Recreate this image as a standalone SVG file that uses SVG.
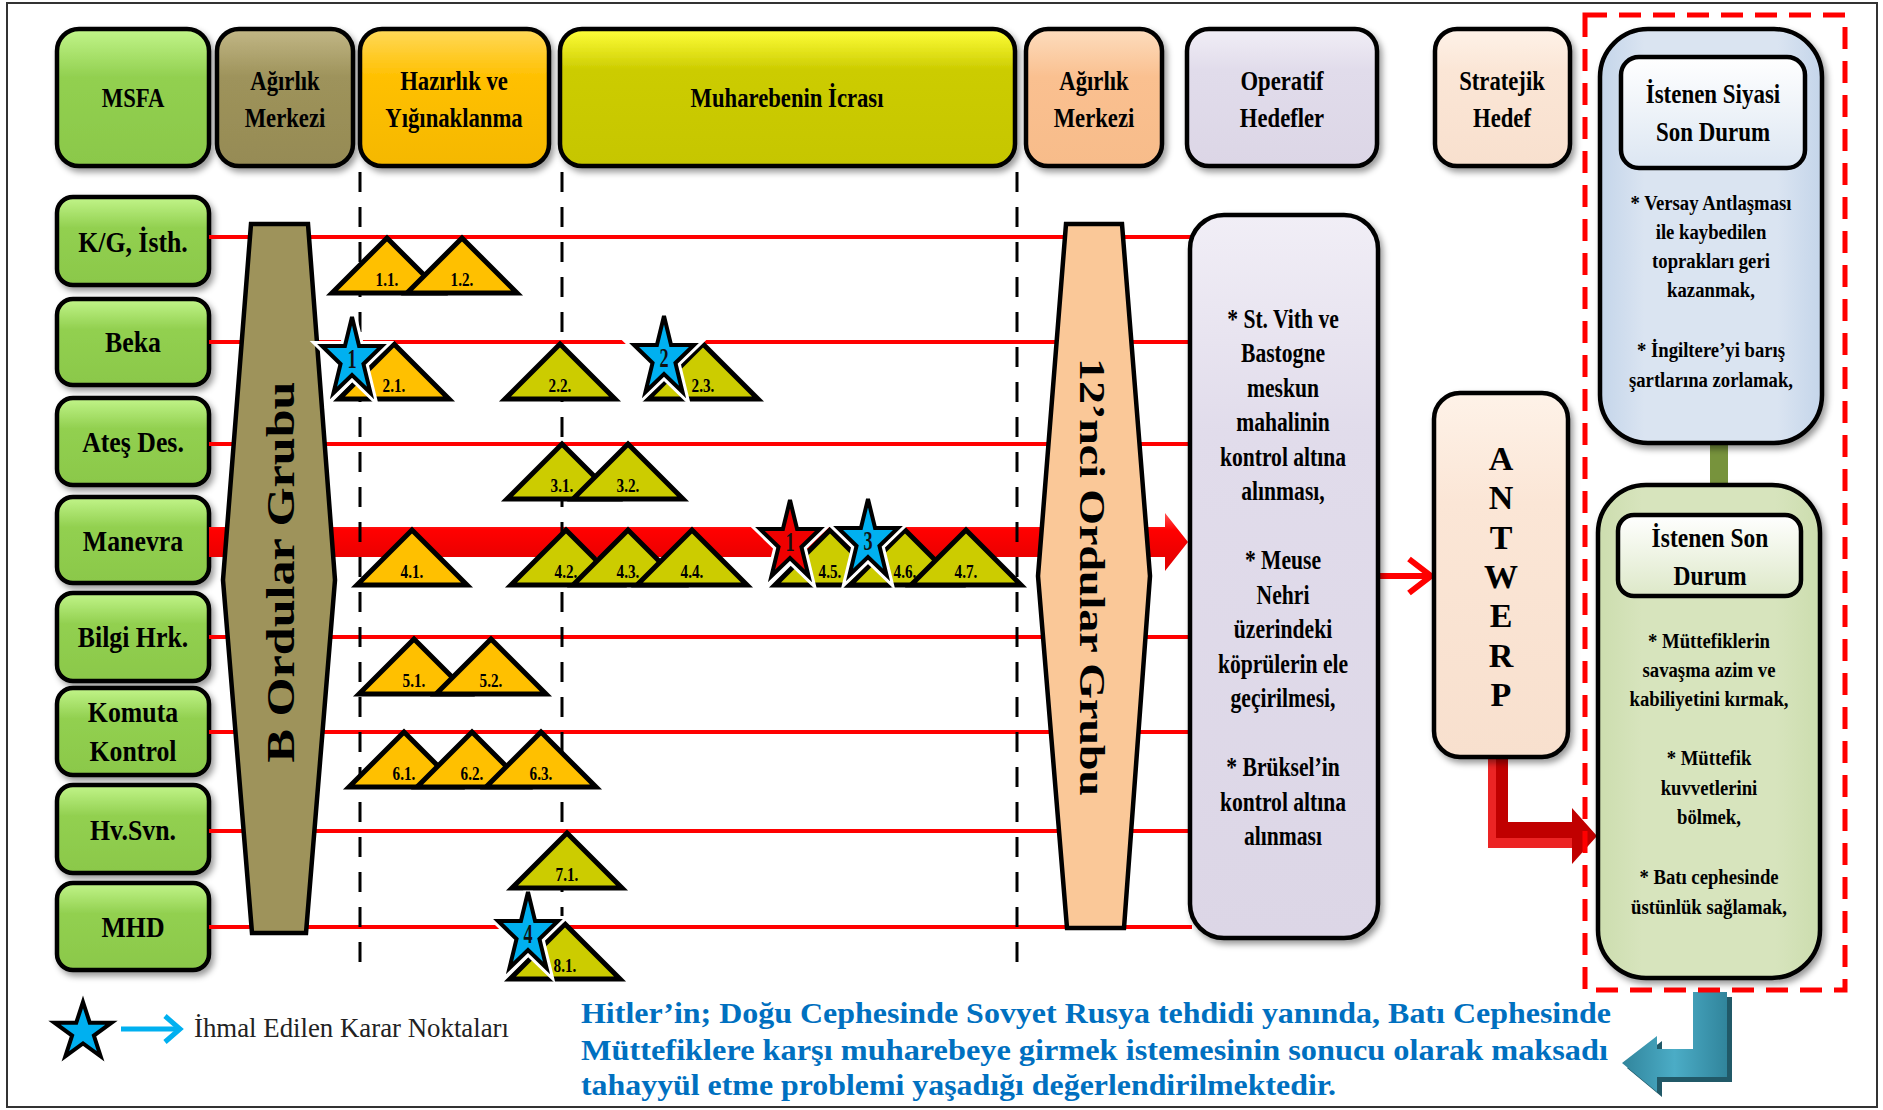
<svg xmlns="http://www.w3.org/2000/svg" width="1883" height="1110" viewBox="0 0 1883 1110">
<defs>
<style>
.t{font-family:"Liberation Serif","Times New Roman",serif;font-weight:bold;text-anchor:middle;fill:#000}
.h{font-size:28px}
.r{font-size:30px}
.b{font-size:27px}
.s{font-size:22px}
.ih{font-size:27px}
.tl{font-size:19px}
.sn{font-size:28px;fill:#111}
.box{stroke:#000;stroke-width:4.5}
.tri{stroke:#000;stroke-width:5}
.o{fill:#FFC000}
.y{fill:#CCCC00}
.rl{stroke:#FF0000;stroke-width:4}
.dl{stroke:#000;stroke-width:3;stroke-dasharray:20 15}
</style>
<filter id="sh" x="-20%" y="-20%" width="140%" height="140%"><feDropShadow dx="3" dy="4" stdDeviation="3" flood-color="#000" flood-opacity="0.4"/></filter>
<linearGradient id="gGreen" x1="0" y1="0" x2="0" y2="1"><stop offset="0" stop-color="#C2F58A"/><stop offset="0.35" stop-color="#92D050"/><stop offset="1" stop-color="#8BC84A"/></linearGradient>
<linearGradient id="gOlive" x1="0" y1="0" x2="0" y2="1"><stop offset="0" stop-color="#C2B786"/><stop offset="0.35" stop-color="#9E935B"/><stop offset="1" stop-color="#968B55"/></linearGradient>
<linearGradient id="gOrange" x1="0" y1="0" x2="0" y2="1"><stop offset="0" stop-color="#FFD95A"/><stop offset="0.35" stop-color="#FFC000"/><stop offset="1" stop-color="#F5B800"/></linearGradient>
<linearGradient id="gYel" x1="0" y1="0" x2="0" y2="1"><stop offset="0" stop-color="#FFFF3A"/><stop offset="0.3" stop-color="#CCCC00"/><stop offset="1" stop-color="#C6C600"/></linearGradient>
<linearGradient id="gPeach" x1="0" y1="0" x2="0" y2="1"><stop offset="0" stop-color="#FDDDBE"/><stop offset="0.35" stop-color="#FAC090"/><stop offset="1" stop-color="#F7BC8A"/></linearGradient>
<linearGradient id="gLav" x1="0" y1="0" x2="0" y2="1"><stop offset="0" stop-color="#F1EEF6"/><stop offset="0.3" stop-color="#E1DCEB"/><stop offset="1" stop-color="#DCD6E6"/></linearGradient>
<linearGradient id="gCream" x1="0" y1="0" x2="0" y2="1"><stop offset="0" stop-color="#FEF2E8"/><stop offset="0.3" stop-color="#FBE6D6"/><stop offset="1" stop-color="#F8E0CE"/></linearGradient>
<linearGradient id="gBlue" x1="0" y1="0" x2="1" y2="0"><stop offset="0" stop-color="#C4D5EA"/><stop offset="0.2" stop-color="#DAE4F1"/><stop offset="0.8" stop-color="#DAE4F1"/><stop offset="1" stop-color="#C4D5EA"/></linearGradient>
<linearGradient id="gLG" x1="0" y1="0" x2="1" y2="0"><stop offset="0" stop-color="#CCDDAE"/><stop offset="0.2" stop-color="#D7E4BD"/><stop offset="0.8" stop-color="#D7E4BD"/><stop offset="1" stop-color="#CCDDAE"/></linearGradient>
<linearGradient id="gWB" x1="0" y1="0" x2="0" y2="1"><stop offset="0" stop-color="#FFFFFF"/><stop offset="1" stop-color="#DCE6F2"/></linearGradient>
<linearGradient id="gWG" x1="0" y1="0" x2="0" y2="1"><stop offset="0" stop-color="#FFFFFF"/><stop offset="1" stop-color="#DDE8C8"/></linearGradient>
<linearGradient id="gBand" x1="0" y1="0" x2="0" y2="1"><stop offset="0" stop-color="#FF5050"/><stop offset="0.3" stop-color="#FF0000"/><stop offset="1" stop-color="#E00000"/></linearGradient>
<linearGradient id="gTeal" x1="0" y1="0" x2="1" y2="0"><stop offset="0" stop-color="#31859C"/><stop offset="0.5" stop-color="#4BACC6"/><stop offset="1" stop-color="#31859C"/></linearGradient>
<path id="star" d="M0,-42 L7.07,-12.98 L29.96,-12.98 L11.45,4.96 L18.52,33.98 L0,16.04 L-18.52,33.98 L-11.45,4.96 L-29.96,-12.98 L-7.07,-12.98 Z"/>
</defs>

<rect x="7" y="3" width="1870" height="1104" fill="#fff" stroke="#333" stroke-width="2"/>

<!-- header -->
<g id="h-msfa"><rect class="box" x="57" y="29" width="152" height="137" rx="22" fill="url(#gGreen)" filter="url(#sh)"/><text class="t h" transform="translate(133,107) scale(0.81,1)">MSFA</text></g>
<g id="h-agirlik1"><rect class="box" x="217" y="29" width="136" height="137" rx="22" fill="url(#gOlive)" filter="url(#sh)"/><text class="t h" transform="translate(285,90) scale(0.81,1)"><tspan x="0" y="0">Ağırlık</tspan><tspan x="0" y="37">Merkezi</tspan></text></g>
<g id="h-hazirlik"><rect class="box" x="360" y="29" width="189" height="137" rx="22" fill="url(#gOrange)" filter="url(#sh)"/><text class="t h" transform="translate(454,90) scale(0.81,1)"><tspan x="0" y="0">Hazırlık ve</tspan><tspan x="0" y="37">Yığınaklanma</tspan></text></g>
<g id="h-muharebe"><rect class="box" x="560" y="29" width="455" height="137" rx="22" fill="url(#gYel)" filter="url(#sh)"/><text class="t h" transform="translate(787,107) scale(0.81,1)">Muharebenin İcrası</text></g>
<g id="h-agirlik2"><rect class="box" x="1026" y="29" width="136" height="137" rx="22" fill="url(#gPeach)" filter="url(#sh)"/><text class="t h" transform="translate(1094,90) scale(0.81,1)"><tspan x="0" y="0">Ağırlık</tspan><tspan x="0" y="37">Merkezi</tspan></text></g>
<g id="h-operatif"><rect class="box" x="1187" y="29" width="190" height="137" rx="22" fill="url(#gLav)" filter="url(#sh)"/><text class="t h" transform="translate(1282,90) scale(0.81,1)"><tspan x="0" y="0">Operatif</tspan><tspan x="0" y="37">Hedefler</tspan></text></g>
<g id="h-stratejik"><rect class="box" x="1435" y="29" width="135" height="137" rx="22" fill="url(#gCream)" filter="url(#sh)"/><text class="t h" transform="translate(1502,90) scale(0.81,1)"><tspan x="0" y="0">Stratejik</tspan><tspan x="0" y="37">Hedef</tspan></text></g>

<!-- row labels -->
<g id="row-kg"><rect class="box" x="57" y="197" width="152" height="88" rx="16" fill="url(#gGreen)" filter="url(#sh)"/><text class="t r" transform="translate(133,252) scale(0.86,1)">K/G, İsth.</text></g>
<g id="row-beka"><rect class="box" x="57" y="299" width="152" height="86" rx="16" fill="url(#gGreen)" filter="url(#sh)"/><text class="t r" transform="translate(133,352) scale(0.86,1)">Beka</text></g>
<g id="row-ates"><rect class="box" x="57" y="398" width="152" height="87" rx="16" fill="url(#gGreen)" filter="url(#sh)"/><text class="t r" transform="translate(133,452) scale(0.86,1)">Ateş Des.</text></g>
<g id="row-manevra"><rect class="box" x="57" y="497" width="152" height="86" rx="16" fill="url(#gGreen)" filter="url(#sh)"/><text class="t r" transform="translate(133,551) scale(0.86,1)">Manevra</text></g>
<g id="row-bilgi"><rect class="box" x="57" y="593" width="152" height="88" rx="16" fill="url(#gGreen)" filter="url(#sh)"/><text class="t r" transform="translate(133,647) scale(0.86,1)">Bilgi Hrk.</text></g>
<g id="row-komuta"><rect class="box" x="57" y="688" width="152" height="87" rx="16" fill="url(#gGreen)" filter="url(#sh)"/><text class="t r" transform="translate(133,722) scale(0.86,1)"><tspan x="0" y="0">Komuta</tspan><tspan x="0" y="39">Kontrol</tspan></text></g>
<g id="row-hvsvn"><rect class="box" x="57" y="785" width="152" height="88" rx="16" fill="url(#gGreen)" filter="url(#sh)"/><text class="t r" transform="translate(133,840) scale(0.86,1)">Hv.Svn.</text></g>
<g id="row-mhd"><rect class="box" x="57" y="883" width="152" height="87" rx="16" fill="url(#gGreen)" filter="url(#sh)"/><text class="t r" transform="translate(133,937) scale(0.86,1)">MHD</text></g>

<!-- connectors -->
<g id="connectors">
<line class="rl" x1="209" y1="237" x2="1192" y2="237"/>
<line class="rl" x1="209" y1="342" x2="1192" y2="342"/>
<line class="rl" x1="209" y1="444" x2="1192" y2="444"/>
<line class="rl" x1="209" y1="637" x2="1192" y2="637"/>
<line class="rl" x1="209" y1="732" x2="1192" y2="732"/>
<line class="rl" x1="209" y1="831" x2="1192" y2="831"/>
<line class="rl" x1="209" y1="927" x2="1192" y2="927"/>
<path d="M209,527 H1165 V513 L1188,542 L1165,571 V557 H209 Z" fill="url(#gBand)"/>
<line class="dl" x1="360" y1="172" x2="360" y2="963"/>
<line class="dl" x1="562" y1="172" x2="562" y2="963"/>
<line class="dl" x1="1017" y1="172" x2="1017" y2="963"/>
<line x1="1378" y1="576" x2="1429" y2="576" stroke="#FF0000" stroke-width="6"/>
<polyline points="1409,559 1431,576 1409,593" fill="none" stroke="#FF0000" stroke-width="6" stroke-linejoin="miter"/>
<path d="M1488,758 H1508 V822 H1572 V808 L1597,836 L1572,864 V848 H1488 Z" fill="#C00000"/>
<path d="M1488,758 H1496 V838 H1572 V848 H1488 Z" fill="#FF3333" opacity="0.7"/>
<rect x="1710" y="443" width="18" height="42" fill="#77933C"/>
<path d="M1698,997 H1732 V1082 H1662 V1097 L1627,1068 L1662,1041 V1054 H1698 Z" fill="#215968"/>
<path d="M1693,992 H1727 V1077 H1657 V1092 L1622,1063 L1657,1036 V1049 H1693 Z" fill="url(#gTeal)"/>
</g>

<!-- army groups -->
<g id="b-ordular"><polygon class="box" points="251,224 308,224 335,580 306,933 252,933 223,580" fill="#9E935B"/><text class="t" font-size="40" transform="translate(294,572) rotate(-90)" textLength="381" lengthAdjust="spacingAndGlyphs">B Ordular Grubu</text></g>
<g id="ordular12"><polygon class="box" points="1066,224 1122,224 1150,576 1124,928 1067,928 1038,576" fill="#FAC898"/><text class="t" font-size="36" transform="translate(1080,577) rotate(90)" textLength="438" lengthAdjust="spacingAndGlyphs">12’nci Ordular Grubu</text></g>

<!-- triangles -->
<g id="tasks">
<polygon class="tri o" points="332,293 387,238 442,293"/><text class="t tl" transform="translate(387,286) scale(0.8,1)">1.1.</text>
<polygon class="tri o" points="407,293 462,238 517,293"/><text class="t tl" transform="translate(462,286) scale(0.8,1)">1.2.</text>
<polygon class="tri o" points="339,399 394,344 449,399"/><text class="t tl" transform="translate(394,392) scale(0.8,1)">2.1.</text>
<polygon class="tri y" points="505,399 560,344 615,399"/><text class="t tl" transform="translate(560,392) scale(0.8,1)">2.2.</text>
<polygon class="tri y" points="648,399 703,344 758,399"/><text class="t tl" transform="translate(703,392) scale(0.8,1)">2.3.</text>
<polygon class="tri y" points="507,499 562,444 617,499"/><text class="t tl" transform="translate(562,492) scale(0.8,1)">3.1.</text>
<polygon class="tri y" points="573,499 628,444 683,499"/><text class="t tl" transform="translate(628,492) scale(0.8,1)">3.2.</text>
<polygon class="tri o" points="357,585 412,530 467,585"/><text class="t tl" transform="translate(412,578) scale(0.8,1)">4.1.</text>
<polygon class="tri y" points="511,585 566,530 621,585"/><text class="t tl" transform="translate(566,578) scale(0.8,1)">4.2.</text>
<polygon class="tri y" points="573,585 628,530 683,585"/><text class="t tl" transform="translate(628,578) scale(0.8,1)">4.3.</text>
<polygon class="tri y" points="637,585 692,530 747,585"/><text class="t tl" transform="translate(692,578) scale(0.8,1)">4.4.</text>
<polygon class="tri y" points="775,585 830,530 885,585"/><text class="t tl" transform="translate(830,578) scale(0.8,1)">4.5.</text>
<polygon class="tri y" points="850,585 905,530 960,585"/><text class="t tl" transform="translate(905,578) scale(0.8,1)">4.6.</text>
<polygon class="tri y" points="911,585 966,530 1021,585"/><text class="t tl" transform="translate(966,578) scale(0.8,1)">4.7.</text>
<polygon class="tri o" points="359,694 414,639 469,694"/><text class="t tl" transform="translate(414,687) scale(0.8,1)">5.1.</text>
<polygon class="tri o" points="436,694 491,639 546,694"/><text class="t tl" transform="translate(491,687) scale(0.8,1)">5.2.</text>
<polygon class="tri o" points="349,787 404,732 459,787"/><text class="t tl" transform="translate(404,780) scale(0.8,1)">6.1.</text>
<polygon class="tri o" points="417,787 472,732 527,787"/><text class="t tl" transform="translate(472,780) scale(0.8,1)">6.2.</text>
<polygon class="tri o" points="486,787 541,732 596,787"/><text class="t tl" transform="translate(541,780) scale(0.8,1)">6.3.</text>
<polygon class="tri y" points="512,888 567,833 622,888"/><text class="t tl" transform="translate(567,881) scale(0.8,1)">7.1.</text>
<polygon class="tri y" points="510,979 565,924 620,979"/><text class="t tl" transform="translate(565,972) scale(0.8,1)">8.1.</text>
</g>

<!-- decision stars -->
<g id="star-1"><use href="#star" transform="translate(352,359)" fill="none" stroke="#fff" stroke-width="10"/><use href="#star" transform="translate(352,359)" fill="#00B0F0" stroke="#000" stroke-width="4"/><text class="t sn" transform="translate(352,368) scale(0.65,1)">1</text></g>
<g id="star-2"><use href="#star" transform="translate(664,358)" fill="none" stroke="#fff" stroke-width="10"/><use href="#star" transform="translate(664,358)" fill="#00B0F0" stroke="#000" stroke-width="4"/><text class="t sn" transform="translate(664,367) scale(0.65,1)">2</text></g>
<g id="star-red-1"><use href="#star" transform="translate(790,542)" fill="none" stroke="#fff" stroke-width="10"/><use href="#star" transform="translate(790,542)" fill="#F00000" stroke="#000" stroke-width="4"/><text class="t sn" transform="translate(790,551) scale(0.65,1)">1</text></g>
<g id="star-3"><use href="#star" transform="translate(868,541)" fill="none" stroke="#fff" stroke-width="10"/><use href="#star" transform="translate(868,541)" fill="#00B0F0" stroke="#000" stroke-width="4"/><text class="t sn" transform="translate(868,550) scale(0.65,1)">3</text></g>
<g id="star-4"><use href="#star" transform="translate(528,934)" fill="none" stroke="#fff" stroke-width="10"/><use href="#star" transform="translate(528,934)" fill="#00B0F0" stroke="#000" stroke-width="4"/><text class="t sn" transform="translate(528,943) scale(0.65,1)">4</text></g>

<!-- operational objectives -->
<g id="operatif-hedefler"><rect class="box" x="1190" y="215" width="188" height="723" rx="34" fill="url(#gLav)" filter="url(#sh)"/>
<text class="t b" transform="translate(1283,0) scale(0.8,1)"><tspan x="0" y="328">* St. Vith ve</tspan><tspan x="0" y="362.5">Bastogne</tspan><tspan x="0" y="397">meskun</tspan><tspan x="0" y="431.5">mahalinin</tspan><tspan x="0" y="466">kontrol altına</tspan><tspan x="0" y="500.5">alınması,</tspan><tspan x="0" y="569.5">* Meuse</tspan><tspan x="0" y="604">Nehri</tspan><tspan x="0" y="638.5">üzerindeki</tspan><tspan x="0" y="673">köprülerin ele</tspan><tspan x="0" y="707.5">geçirilmesi,</tspan><tspan x="0" y="776.5">* Brüksel’in</tspan><tspan x="0" y="811">kontrol altına</tspan><tspan x="0" y="845.5">alınması</tspan></text></g>

<!-- strategic objective -->
<g id="antwerp"><rect class="box" x="1434" y="393" width="134" height="364" rx="26" fill="url(#gCream)" filter="url(#sh)"/>
<text class="t" font-size="34" transform="translate(1501,0)"><tspan x="0" y="470">A</tspan><tspan x="0" y="509.3">N</tspan><tspan x="0" y="548.7">T</tspan><tspan x="0" y="588">W</tspan><tspan x="0" y="627.3">E</tspan><tspan x="0" y="666.7">R</tspan><tspan x="0" y="706">P</tspan></text></g>

<!-- end states -->
<rect x="1585" y="15" width="260" height="975" fill="none" stroke="#FF0000" stroke-width="5" stroke-dasharray="22 12"/>
<g id="siyasi-son-durum"><rect class="box" x="1600" y="29" width="222" height="414" rx="48" fill="url(#gBlue)" filter="url(#sh)"/>
<rect class="box" x="1621" y="57" width="184" height="111" rx="18" fill="url(#gWB)" stroke-width="5"/>
<text class="t ih" transform="translate(1713,0) scale(0.85,1)"><tspan x="0" y="103">İstenen Siyasi</tspan><tspan x="0" y="141">Son Durum</tspan></text>
<text class="t s" transform="translate(1711,0) scale(0.85,1)"><tspan x="0" y="210">* Versay Antlaşması</tspan><tspan x="0" y="239">ile kaybedilen</tspan><tspan x="0" y="268">toprakları geri</tspan><tspan x="0" y="297">kazanmak,</tspan><tspan x="0" y="357">* İngiltere’yi barış</tspan><tspan x="0" y="387">şartlarına zorlamak,</tspan></text></g>
<g id="son-durum"><rect class="box" x="1598" y="485" width="222" height="493" rx="48" fill="url(#gLG)" filter="url(#sh)"/>
<rect class="box" x="1618" y="515" width="183" height="81" rx="16" fill="url(#gWG)" stroke-width="5"/>
<text class="t ih" transform="translate(1710,0) scale(0.87,1)"><tspan x="0" y="547">İstenen Son</tspan><tspan x="0" y="585">Durum</tspan></text>
<text class="t s" transform="translate(1709,0) scale(0.85,1)"><tspan x="0" y="648">* Müttefiklerin</tspan><tspan x="0" y="677">savaşma azim ve</tspan><tspan x="0" y="706">kabiliyetini kırmak,</tspan><tspan x="0" y="765">* Müttefik</tspan><tspan x="0" y="795">kuvvetlerini</tspan><tspan x="0" y="824">bölmek,</tspan><tspan x="0" y="884">* Batı cephesinde</tspan><tspan x="0" y="914">üstünlük sağlamak,</tspan></text></g>

<!-- legend -->
<g id="legend">
<polygon points="83,1002 89.74,1022.73 111.53,1022.73 93.9,1035.54 100.63,1056.27 83,1043.46 65.37,1056.27 72.1,1035.54 54.47,1022.73 76.26,1022.73" fill="#00B0F0" stroke="#000" stroke-width="4"/>
<line x1="121" y1="1029" x2="177" y2="1029" stroke="#00B0F0" stroke-width="5"/>
<polyline points="165,1016 180,1029 165,1042" fill="none" stroke="#00B0F0" stroke-width="5"/>
<text x="194" y="1037" font-family="'Liberation Serif','Times New Roman',serif" font-size="28" fill="#222" textLength="315" lengthAdjust="spacingAndGlyphs">İhmal Edilen Karar Noktaları</text>
</g>

<!-- conclusion -->
<g id="conclusion" font-family="'Liberation Serif','Times New Roman',serif" font-weight="bold" font-size="30" fill="#0070C0">
<text x="581" y="1023" textLength="1030" lengthAdjust="spacingAndGlyphs">Hitler’in; Doğu Cephesinde Sovyet Rusya tehdidi yanında, Batı Cephesinde</text>
<text x="581" y="1060" textLength="1027" lengthAdjust="spacingAndGlyphs">Müttefiklere karşı muharebeye girmek istemesinin sonucu olarak maksadı</text>
<text x="581" y="1095" textLength="755" lengthAdjust="spacingAndGlyphs">tahayyül etme problemi yaşadığı değerlendirilmektedir.</text>
</g>
</svg>
